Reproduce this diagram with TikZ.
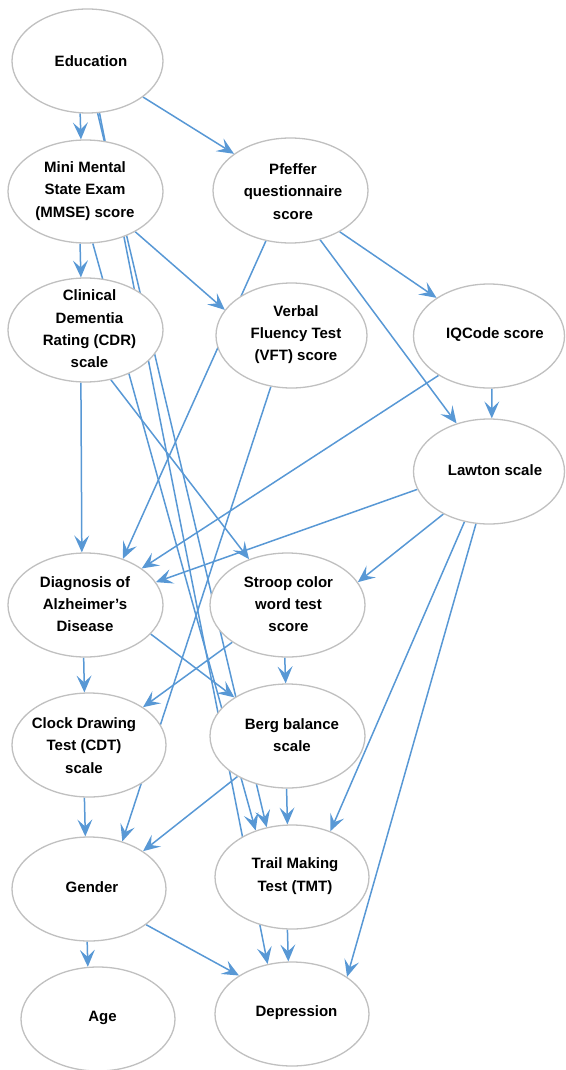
\documentclass[tikz,border=0pt]{standalone}
\usepackage{fontspec}
\setmainfont{Liberation Sans}
\usetikzlibrary{arrows.meta,shapes.geometric}
\definecolor{edgeblue}{RGB}{88,152,213}
\definecolor{ringgray}{RGB}{192,192,192}
\pgfdeclarelayer{edges}
\pgfsetlayers{edges,main}
\begin{document}
\begin{tikzpicture}[x=1pt,y=-1pt,
  bnode/.style={ellipse, draw=ringgray, line width=1.3pt, fill=white, inner sep=0pt,
                minimum width=154pt, minimum height=104pt},
  lbl/.style={font=\bfseries\fontsize{15}{22.3}\selectfont, align=center, text=black, inner sep=0pt},
  tip/.tip={Stealth[length=17pt,width=15pt,inset=7pt,line width=0pt]},
  link/.style={draw=edgeblue, line width=1.5pt, -tip}
]
\useasboundingbox (0,0) rectangle (565,1070);

% variables of the network
\node[bnode, minimum width=151pt] (edu)  at (87.5,61)  {};
\node[bnode, minimum width=155pt, minimum height=103pt] (mmse) at (85.5,191.5) {};
\node[bnode, minimum width=155pt, minimum height=105pt] (pfe)  at (290.5,190.5) {};
\node[bnode, minimum width=155pt] (cdr)  at (85.5,330)  {};
\node[bnode, minimum width=151pt, minimum height=105pt] (vft)  at (291.5,335.5) {};
\node[bnode, minimum width=151pt] (iqc)  at (489,336)   {};
\node[bnode, minimum width=151pt, minimum height=105pt] (law)  at (489,471.5) {};
\node[bnode, minimum width=155pt] (dia)  at (85.5,605)  {};
\node[bnode, minimum width=155pt] (str)  at (287.5,605) {};
\node[bnode] (cdt)  at (89,745)    {};
\node[bnode, minimum width=155pt] (berg) at (287.5,736) {};
\node[bnode] (gen)  at (89,889)    {};
\node[bnode] (tmt)  at (292,877)   {};
\node[bnode] (age)  at (98,1019)   {};
\node[bnode] (dep)  at (292,1014)  {};

% their labels
\node[lbl] (eduT)  at (91,61)     {Education};
\node[lbl] (mmseT) at (85,191)    {Mini Mental\\State Exam\\(MMSE) score};
\node[lbl] (pfeT)  at (293,191.5) {Pfeffer\\questionnaire\\score};
\node[lbl] (cdrT)  at (89.5,329)  {Clinical\\Dementia\\Rating (CDR)\\scale};
\node[lbl] (vftT)  at (296,334.5) {Verbal\\Fluency Test\\(VFT) score};
\node[lbl] (iqcT)  at (495,335)   {IQCode score};
\node[lbl] (lawT)  at (495,470)   {Lawton scale};
\node[lbl] (diaT)  at (85,604)    {Diagnosis of\\Alzheimer’s\\Disease};
\node[lbl] (strT)  at (288.5,604) {Stroop color\\word test\\score};
\node[lbl] (cdtT)  at (84,745.5)  {Clock Drawing\\Test (CDT)\\scale};
\node[lbl] (bergT) at (292,735)   {Berg balance\\scale};
\node[lbl] (genT)  at (92,887)    {Gender};
\node[lbl] (tmtT)  at (295,876)   {Trail Making\\Test (TMT)};
\node[lbl] (ageT)  at (102.5,1018){Age};
\node[lbl] (depT)  at (296.5,1013){Depression};

% dependencies, drawn beneath the ellipses
\begin{pgfonlayer}{edges}
\draw[link] (edu.262.5)  -- (mmse.95.3);
\draw[link] (edu.327)    -- (pfe.147.4);
\draw[link] (edu.281.4)  -- (tmt.117.8);
\draw[link] (edu.283.5)  -- (dep.116.6);
\draw[link] (mmse.264.9) -- (cdr.95.2);
\draw[link] (mmse.321.1) -- (vft.159.1);
\draw[link] (mmse.278)   -- (tmt.128.5);
\draw[link] (pfe.320.5)  -- (iqc.144.9);
\draw[link] (pfe.301.5)  -- (law.124.4);
\draw[link] (pfe.244.6)  -- (dia.51.7);
\draw[link] (cdr.265.1)  -- (dia.94.7);
\draw[link] (cdr.297)    -- (str.130);
\draw[link] (vft.248.5)  -- (gen.55.3);
\draw[link] (iqc.273.3)  -- (law.87);
\draw[link] (iqc.218.8)  -- (dia.33.5);
\draw[link] (law.194.6)  -- (dia.18.5);
\draw[link] (law.223.4)  -- (str.18.5);
\draw[link] (law.244.6)  -- (tmt.50.1);
\draw[link] (law.256.9)  -- (dep.34.9);
\draw[link] (dia.268.3)  -- (cdt.95);
\draw[link] (dia.336.5)  -- (berg.144.5);
\draw[link] (str.267.3)  -- (berg.92.6);
\draw[link] (str.214.9)  -- (cdt.35.9);
\draw[link] (cdt.265.6)  -- (gen.94.1);
\draw[link] (berg.219.1) -- (gen.35.3);
\draw[link] (berg.269.4) -- (tmt.95.3);
\draw[link] (tmt.265.7)  -- (dep.94.2);
\draw[link] (gen.268.9)  -- (age.101.1);
\draw[link] (gen.328.9)  -- (dep.144.7);
\end{pgfonlayer}
\end{tikzpicture}
\end{document}
